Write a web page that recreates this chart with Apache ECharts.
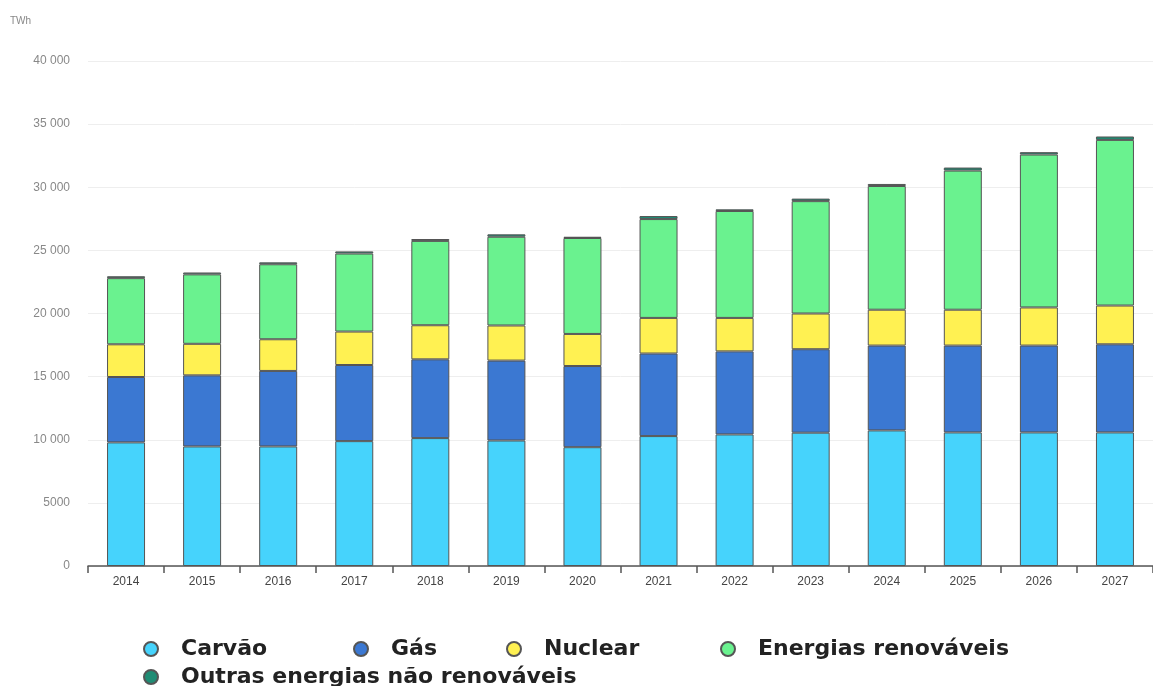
<!DOCTYPE html>
<html>
<head>
<meta charset="utf-8">
<script src="https://cdn.jsdelivr.net/npm/echarts@6/dist/echarts.min.js"></script>
<style>
html,body{margin:0;padding:0;background:#fff;}
#chart{width:1153px;height:686px;}
</style>
</head>
<body>
<div id="chart"></div>
<script>
const years = ['2014','2015','2016','2017','2018','2019','2020','2021','2022','2023','2024','2025','2026','2027'];
const carvao   = [9790, 9470, 9470, 9890, 10130, 9940, 9410, 10290, 10420, 10560, 10740, 10580, 10580, 10580];
const gas      = [5180, 5630, 5980, 6030, 6240, 6330, 6430, 6540, 6580, 6610, 6720, 6880, 6880, 6980];
const nuclear  = [2590, 2500, 2510, 2650, 2700, 2780, 2540, 2820, 2650, 2830, 2840, 2840, 3020, 3070];
const renovaveis = [5240, 5500, 5940, 6180, 6680, 7030, 7600, 7830, 8470, 8900, 9800, 11020, 12110, 13120];
const outras   = [150, 150, 150, 170, 150, 190, 100, 240, 130, 200, 160, 240, 190, 270];
const yTicks = [0, 5000, 10000, 15000, 20000, 25000, 30000, 35000, 40000];

const names = ['Carvão','Gás','Nuclear','Energias renováveis','Outras energias não renováveis'];
const colors = ['#46d3fc','#3b78d2','#fff152','#6af28f','#1f8c74'];
const dataSets = [carvao, gas, nuclear, renovaveis, outras];

function fmt(v){
  if (v >= 10000) { const s = String(v); return s.slice(0, s.length-3) + ' ' + s.slice(-3); }
  return String(v);
}

const chart = echarts.init(document.getElementById('chart'));
const legendPos = [
  {left: 143, top: 638},
  {left: 353, top: 638},
  {left: 506, top: 638},
  {left: 720, top: 638},
  {left: 143, top: 666}
];
const option = {
  animation: false,
  backgroundColor: '#fff',
  graphic: [{
    type: 'text', left: 10, top: 16,
    style: {text: 'TWh', fill: '#888', font: '10px "Liberation Sans", sans-serif'}
  }],
  legend: names.map((n, i) => ({
    data: [n],
    left: legendPos[i].left, top: legendPos[i].top,
    icon: 'circle', itemWidth: 14, itemHeight: 14,
    padding: 0,
    textStyle: {fontFamily: 'DejaVu Sans', fontWeight: 'bold', fontSize: 22, color: '#222', padding: [0,0,0,18]}
  })),
  grid: {left: 88, top: 61, width: 1075, height: 505, containLabel: false},
  xAxis: {
    type: 'category', data: years,
    axisLine: {lineStyle: {color: '#555', width: 1.5}},
    axisTick: {show: true, length: 7, lineStyle: {color: '#555', width: 1.5}},
    axisLabel: {color: '#444', fontSize: 12, margin: 10, fontFamily: 'Liberation Sans'}
  },
  yAxis: {
    type: 'value', min: yTicks[0], max: yTicks[yTicks.length-1], interval: 5000,
    axisLine: {show: false}, axisTick: {show: false},
    splitLine: {lineStyle: {color: '#eee', width: 1}},
    axisLabel: {color: '#888', fontSize: 12, margin: 18, fontFamily: 'Liberation Sans', formatter: fmt}
  },
  series: dataSets.map((d, i) => ({
    name: names[i], type: 'bar', stack: 'total', data: d, barWidth: 38,
    itemStyle: {color: colors[i], borderColor: '#555', borderWidth: 1}
  }))
};
chart.setOption(option);
</script>
</body>
</html>
